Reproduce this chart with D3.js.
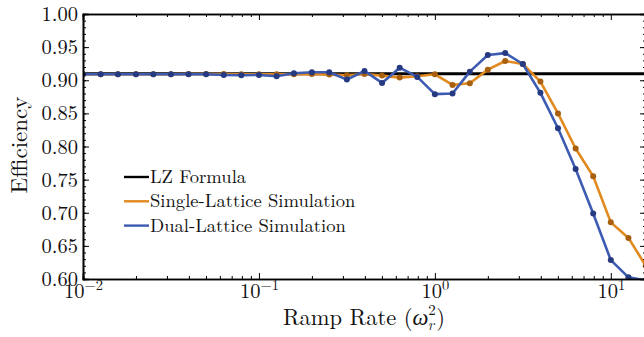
<!DOCTYPE html>
<html>
<head>
<meta charset="utf-8">
<script src="https://cdn.jsdelivr.net/npm/d3@7"></script>
<style>
  html, body { margin: 0; padding: 0; background: #fff; }
</style>
</head>
<body>
<svg id="chart" width="644" height="337"></svg>
<script>
/* Efficiency vs ramp rate — LZ formula against two lattice simulations. */

// ramp rates (omega_r^2), log-spaced
var rates = [0.01, 0.0126, 0.0158, 0.02, 0.0251, 0.0316, 0.0398, 0.0501, 0.0631, 0.0794,
  0.1, 0.126, 0.158, 0.2, 0.251, 0.316, 0.398, 0.501, 0.631, 0.794,
  1, 1.26, 1.58, 2, 2.51, 3.16, 3.98, 5.01, 6.31, 7.94,
  10, 12.6, 15.8];

var singleLattice = [0.909, 0.909, 0.909, 0.909, 0.909, 0.909, 0.9095, 0.9095, 0.9095, 0.909,
  0.909, 0.909, 0.909, 0.9095, 0.9085, 0.9075, 0.9095, 0.907, 0.904, 0.906,
  0.909, 0.893, 0.8955, 0.916, 0.929, 0.9245, 0.898, 0.850, 0.797, 0.755,
  0.6855, 0.662, 0.620];

var dualLattice = [0.909, 0.909, 0.909, 0.909, 0.909, 0.909, 0.909, 0.909, 0.908, 0.9075,
  0.908, 0.906, 0.9105, 0.912, 0.912, 0.901, 0.914, 0.896, 0.919, 0.905,
  0.879, 0.880, 0.913, 0.938, 0.941, 0.9245, 0.881, 0.8275, 0.766, 0.699,
  0.6285, 0.6025, 0.598];

var lzEfficiency = 0.91;

var yTicks = [0.60, 0.65, 0.70, 0.75, 0.80, 0.85, 0.90, 0.95, 1.00];
var xTicks = [0.01, 0.1, 1, 10];
var xTickExp = ["\u22122", "\u22121", "0", "1"];

var legendLabels = ["LZ Formula", "Single-Lattice Simulation", "Dual-Lattice Simulation"];
var lineColors = ["#000000", "#e08a1f", "#3d5bb0"];
var dotColors = [null, "#a8600f", "#263a82"];

var FONT = "Latin Modern Roman";

var svg = d3.select("#chart");
var mLeft = 83, mRight = 646, mTop = 14, mBottom = 279;

var x = d3.scaleLog().domain([0.01, 15.85]).range([mLeft, mRight]);
var y = d3.scaleLinear().domain([0.6, 1.0]).range([mBottom, mTop]);

svg.append("clipPath").attr("id", "plot-clip")
  .append("rect").attr("x", mLeft).attr("y", mTop)
  .attr("width", mRight - mLeft).attr("height", mBottom - mTop);

var plot = svg.append("g").attr("clip-path", "url(#plot-clip)");

// LZ formula line
plot.append("line")
  .attr("x1", x(0.01)).attr("x2", x(15.85))
  .attr("y1", y(lzEfficiency)).attr("y2", y(lzEfficiency))
  .attr("stroke", lineColors[0]).attr("stroke-width", 3);

var line = d3.line()
  .x(function (d) { return x(d[0]); })
  .y(function (d) { return y(d[1]); });

[singleLattice, dualLattice].forEach(function (vals, i) {
  var pts = rates.map(function (r, j) { return [r, vals[j]]; });
  plot.append("path").datum(pts)
    .attr("fill", "none")
    .attr("stroke", lineColors[i + 1])
    .attr("stroke-width", 2.6)
    .attr("stroke-linejoin", "round")
    .attr("d", line);
  plot.selectAll(null).data(pts).enter().append("circle")
    .attr("cx", function (d) { return x(d[0]); })
    .attr("cy", function (d) { return y(d[1]); })
    .attr("r", 3)
    .attr("fill", dotColors[i + 1]);
});

// axes: major + minor ticks, all pointing inward
var yMinor = d3.range(0.60, 1.0001, 0.01);
var xMinor = [];
[0.01, 0.1, 1, 10].forEach(function (dec) {
  for (var m = 2; m <= 9; m++) if (dec * m <= 15.85) xMinor.push(dec * m);
});

function styleAxis(g) {
  g.attr("font-family", null);
  g.select(".domain").attr("stroke", "#000").attr("stroke-width", 1.6);
  g.selectAll(".tick line").attr("stroke", "#000").attr("stroke-width", 1);
}

var gl = svg.append("g").attr("transform", "translate(" + mLeft + ",0)")
  .call(d3.axisLeft(y).tickValues(yTicks).tickSize(-6).tickPadding(5).tickFormat(d3.format(".2f")));
styleAxis(gl);
gl.selectAll(".tick text").style("font-family", FONT).attr("font-size", 20.5).attr("fill", "#111");
svg.append("g").attr("transform", "translate(" + mLeft + ",0)")
  .call(d3.axisLeft(y).tickValues(yMinor).tickSize(-3).tickFormat("")).call(styleAxis);

var gr = svg.append("g").attr("transform", "translate(" + mRight + ",0)")
  .call(d3.axisRight(y).tickValues(yTicks).tickSize(-6).tickFormat(""));
styleAxis(gr);
svg.append("g").attr("transform", "translate(" + mRight + ",0)")
  .call(d3.axisRight(y).tickValues(yMinor).tickSize(-3).tickFormat("")).call(styleAxis);

var gb = svg.append("g").attr("transform", "translate(0," + mBottom + ")")
  .call(d3.axisBottom(x).tickValues(xTicks).tickSize(-6).tickFormat(""));
styleAxis(gb);
svg.append("g").attr("transform", "translate(0," + mBottom + ")")
  .call(d3.axisBottom(x).tickValues(xMinor).tickSize(-3).tickFormat("")).call(styleAxis);

gb.selectAll(".tick").each(function (d, i) {
  var t = d3.select(this).append("text")
    .style("font-family", FONT)
    .attr("y", 19).attr("text-anchor", "middle").attr("font-size", 20.5).attr("fill", "#111");
  t.append("tspan").text("10");
  t.append("tspan").attr("dy", -8).attr("font-size", 14.5).text(xTickExp[i]);
});

var gt = svg.append("g").attr("transform", "translate(0," + mTop + ")")
  .call(d3.axisTop(x).tickValues(xTicks).tickSize(-6).tickFormat(""));
styleAxis(gt);
svg.append("g").attr("transform", "translate(0," + mTop + ")")
  .call(d3.axisTop(x).tickValues(xMinor).tickSize(-3).tickFormat("")).call(styleAxis);

// axis titles
svg.append("text")
  .style("font-family", FONT).attr("fill", "#111")
  .attr("transform", "translate(27,145) rotate(-90)")
  .attr("text-anchor", "middle").attr("font-size", 23)
  .text("Efficiency");

var xt = svg.append("text")
  .style("font-family", FONT).attr("fill", "#111")
  .attr("x", 364).attr("y", 325).attr("text-anchor", "middle").attr("font-size", 22.5);
xt.append("tspan").text("Ramp Rate (");
xt.append("tspan").attr("font-style", "italic").text("\u03c9");
xt.append("tspan").attr("font-size", 15).attr("dy", -10).text("2");
xt.append("tspan").attr("font-size", 15).attr("font-style", "italic").attr("dx", -8).attr("dy", 15).text("r");
xt.append("tspan").attr("dx", 2).attr("dy", -5).text(")");

// legend
var leg = svg.append("g").attr("transform", "translate(124,177)");
legendLabels.forEach(function (lab, i) {
  var row = leg.append("g").attr("transform", "translate(0," + (i * 24.3) + ")");
  row.append("line").attr("x1", 0).attr("x2", 25).attr("y1", 0).attr("y2", 0)
    .attr("stroke", lineColors[i]).attr("stroke-width", 2.4);
  row.append("text").style("font-family", FONT).attr("fill", "#111")
    .attr("x", 26).attr("y", 0).attr("dy", "0.33em")
    .attr("font-size", 18.6).text(lab);
});
</script>
</body>
</html>
